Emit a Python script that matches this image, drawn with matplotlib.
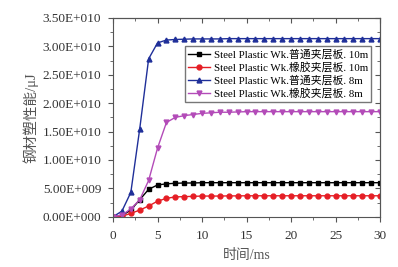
import numpy as np
import matplotlib.pyplot as plt
from matplotlib.ticker import FuncFormatter, MultipleLocator

plt.rcParams['font.family'] = ['Liberation Serif', 'Noto Sans CJK SC']

# 时间 (ms)
t = list(range(0, 31))

# 钢材塑性能 (单位 1e9 μJ)
black_10m = [0, 0.2, 1.2, 3.0, 4.84, 5.6, 5.8, 5.9, 5.95, 5.95, 6.0, 6.0, 6.0, 6.0, 6.0, 6.0,
             6.0, 6.0, 6.0, 6.0, 6.0, 6.0, 6.0, 6.0, 6.0, 6.0, 6.0, 6.0, 6.0, 6.0, 6.0]
red_10m = [0, 0.1, 0.6, 1.18, 1.9, 2.75, 3.25, 3.5, 3.55, 3.6, 3.65, 3.65, 3.65, 3.68, 3.68, 3.7,
           3.7, 3.7, 3.7, 3.7, 3.7, 3.7, 3.7, 3.7, 3.7, 3.7, 3.7, 3.7, 3.7, 3.7, 3.7]
blue_8m = [0, 1.0, 4.3, 15.5, 27.8, 30.6, 31.1, 31.2, 31.25, 31.3, 31.3, 31.3, 31.3, 31.35, 31.35, 31.35,
           31.35, 31.35, 31.35, 31.35, 31.35, 31.35, 31.35, 31.35, 31.35, 31.35, 31.35, 31.35, 31.35, 31.35, 31.35]
purple_8m = [0, 0.3, 1.4, 3.0, 6.4, 12.1, 16.6, 17.5, 17.8, 18.0, 18.2, 18.3, 18.4, 18.4, 18.45, 18.5,
             18.5, 18.5, 18.5, 18.5, 18.5, 18.5, 18.5, 18.5, 18.5, 18.5, 18.5, 18.5, 18.5, 18.5, 18.5]

labels = ['Steel Plastic Wk.普通夹层板. 10m', 'Steel Plastic Wk.橡胶夹层板. 10m',
          'Steel Plastic Wk.普通夹层板. 8m', 'Steel Plastic Wk.橡胶夹层板. 8m']


def sci_fmt(v, pos):
    if v == 0:
        return '0.00E+000'
    e = int(np.floor(np.log10(abs(v)) + 1e-9))
    m = v / 10 ** e
    return f'{m:.2f}E+{e:03d}'


fig = plt.figure(figsize=(3.98, 2.67), dpi=100)
ax = fig.add_axes([0.284, 0.188, 0.671, 0.745])

series = [(black_10m, 'black', 's'), (red_10m, '#e51e25', 'o'),
          (blue_8m, '#1f2f99', '^'), (purple_8m, '#b34bb8', 'v')]
for (vals, c, m), lab in zip(series, labels):
    ax.plot(t, np.array(vals) * 1e9, color=c, marker=m, markersize=3.5, linewidth=1, label=lab)

ax.set_xlim(0, 30)
ax.set_ylim(0, 3.5e10)
ax.xaxis.set_major_locator(MultipleLocator(5))
ax.xaxis.set_minor_locator(MultipleLocator(2.5))
ax.yaxis.set_major_locator(MultipleLocator(5e9))
ax.yaxis.set_minor_locator(MultipleLocator(2.5e9))
ax.yaxis.set_major_formatter(FuncFormatter(sci_fmt))
ax.yaxis.get_offset_text().set_visible(False)
ax.tick_params(which='both', direction='out', top=False, right=False, labelsize=9.5,
               color='#555555', labelcolor='#333333')
ax.tick_params(which='major', length=3.5)
ax.tick_params(which='minor', length=2)
ax.tick_params(axis='y', pad=5)
ax.tick_params(axis='x', pad=6)
ax2 = ax.secondary_xaxis('top')
ax2.tick_params(which='both', direction='in', labeltop=False, color='#555555')
ax2.xaxis.set_major_locator(MultipleLocator(5))
ax2.xaxis.set_minor_locator(MultipleLocator(2.5))
ax2.set_xticklabels([])
ax3 = ax.secondary_yaxis('right')
ax3.tick_params(which='both', direction='in', labelright=False, color='#555555')
ax3.yaxis.set_major_locator(MultipleLocator(5e9))
ax3.yaxis.set_minor_locator(MultipleLocator(2.5e9))
ax3.set_yticklabels([])
for a in (ax, ax2, ax3):
    for s in a.spines.values():
        s.set_color('#555555')

ax.set_xlabel('时间/ms', fontsize=10, color='#555555', labelpad=5)
ax.set_ylabel('钢材塑性能/μJ', fontsize=10.5, color='#555555', labelpad=3)

ax.legend(loc='upper left', bbox_to_anchor=(0.268, 0.86), fontsize=7.8, frameon=True, fancybox=False,
          edgecolor='#555555', borderpad=0.3, labelspacing=0.22, handlelength=2.0, handletextpad=0.4,
          borderaxespad=0)

fig.savefig('out.png', dpi=100)
